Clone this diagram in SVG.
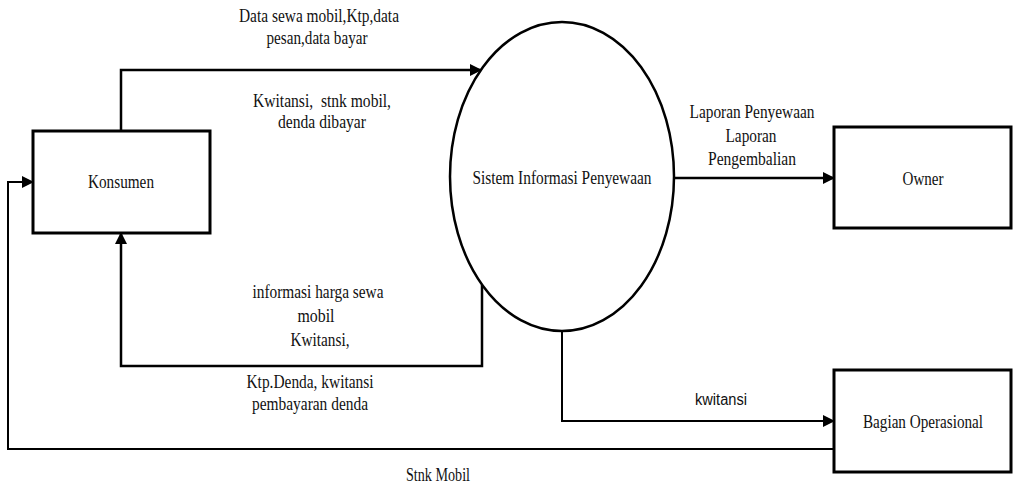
<svg xmlns="http://www.w3.org/2000/svg" width="1013" height="488" viewBox="0 0 1013 488">
<style>
.box{fill:#fff;stroke:#000;stroke-width:3}
.proc{fill:#fff;stroke:#000;stroke-width:2.5}
.t{font-family:"Liberation Serif","Times New Roman",serif;font-size:18px;fill:#111;text-anchor:middle}
.s{font-family:"Liberation Sans",Arial,sans-serif;font-size:16px;fill:#111;text-anchor:middle}
.c{fill:none;stroke:#000;stroke-width:2.5}
.c2{fill:none;stroke:#000;stroke-width:2}
</style>
<defs>
<marker id="ah" markerUnits="userSpaceOnUse" markerWidth="12" markerHeight="12" refX="11" refY="6" orient="auto">
<path d="M0,0 L12,6 L0,12 Z" fill="#000"/>
</marker>
</defs>
<g id="connectors">
<path class="c" d="M121,131 V70 H481" marker-end="url(#ah)"/>
<path class="c" d="M482,285 V366 H121 V233" marker-end="url(#ah)"/>
<path class="c" d="M674,178 H834" marker-end="url(#ah)"/>
<path class="c2" d="M562,331 V421 H834" marker-end="url(#ah)"/>
<path class="c2" d="M834,449 H8 V182 H33" marker-end="url(#ah)"/>
<text class="t" x="319" y="22" textLength="160" lengthAdjust="spacingAndGlyphs">Data sewa mobil,Ktp,data</text>
<text class="t" x="317" y="44" textLength="101" lengthAdjust="spacingAndGlyphs">pesan,data bayar</text>
<text class="t" x="322" y="107" textLength="138" lengthAdjust="spacingAndGlyphs" xml:space="preserve">Kwitansi,  stnk mobil,</text>
<text class="t" x="322" y="128" textLength="88" lengthAdjust="spacingAndGlyphs">denda dibayar</text>
<text class="t" x="318" y="298" textLength="131" lengthAdjust="spacingAndGlyphs">informasi harga sewa</text>
<text class="t" x="316" y="322" textLength="37" lengthAdjust="spacingAndGlyphs">mobil</text>
<text class="t" x="320" y="346" textLength="59" lengthAdjust="spacingAndGlyphs">Kwitansi,</text>
<text class="t" x="310" y="388" textLength="127" lengthAdjust="spacingAndGlyphs">Ktp.Denda, kwitansi</text>
<text class="t" x="310" y="410" textLength="116" lengthAdjust="spacingAndGlyphs">pembayaran denda</text>
<text class="t" x="752" y="118" textLength="125" lengthAdjust="spacingAndGlyphs">Laporan Penyewaan</text>
<text class="t" x="751" y="142" textLength="51" lengthAdjust="spacingAndGlyphs">Laporan</text>
<text class="t" x="752" y="165" textLength="88" lengthAdjust="spacingAndGlyphs">Pengembalian</text>
<text class="s" x="721" y="405" textLength="52" lengthAdjust="spacingAndGlyphs">kwitansi</text>
<text class="t" x="438" y="481" textLength="64" lengthAdjust="spacingAndGlyphs">Stnk Mobil</text>
</g>
<g id="konsumen">
<rect class="box" x="33" y="131" width="177" height="102"/>
<text class="t" x="121" y="188" textLength="66" lengthAdjust="spacingAndGlyphs">Konsumen</text>
</g>
<g id="sistem">
<ellipse class="proc" cx="562" cy="176.5" rx="112" ry="154.5"/>
<text class="t" x="562" y="184" textLength="179" lengthAdjust="spacingAndGlyphs">Sistem Informasi Penyewaan</text>
</g>
<g id="owner">
<rect class="box" x="834" y="127" width="177" height="101"/>
<text class="t" x="923" y="185" textLength="41" lengthAdjust="spacingAndGlyphs">Owner</text>
</g>
<g id="bagian">
<rect class="box" x="834" y="370" width="177" height="102"/>
<text class="t" x="923" y="428" textLength="120" lengthAdjust="spacingAndGlyphs">Bagian Operasional</text>
</g>
</svg>
